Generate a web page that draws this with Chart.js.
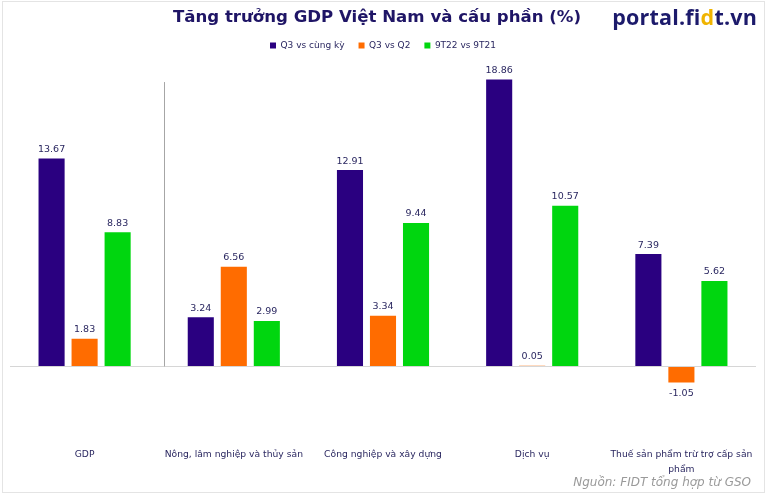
<!DOCTYPE html>
<html>
<head>
<meta charset="utf-8">
<script src="https://cdn.jsdelivr.net/npm/chart.js@4.4.0/dist/chart.umd.min.js"></script>
<style>
  html, body { margin:0; padding:0; background:#fff; }
  #wrap { position:relative; width:767px; height:496px; overflow:hidden; }
  #frame { position:absolute; left:2px; top:1px; width:763px; height:492px; border:1px solid #e4e4e4; box-sizing:border-box; pointer-events:none; }
  #title { position:absolute; left:0; top:7px; width:754px; text-align:center; font-family:"DejaVu Sans", Verdana, sans-serif; font-weight:bold; font-size:16.6px; color:#1f1566; }
  #logo { position:absolute; right:10px; top:2px; font-family:"Open Sans", "Noto Sans", sans-serif; font-weight:700; font-size:21.5px; color:#1c1a6b; letter-spacing:0.2px; }
  #logo span { color:#f0b400; }
  #source { position:absolute; right:16px; top:475px; font-family:"DejaVu Sans", Verdana, sans-serif; font-style:italic; font-size:12px; color:#9a9a9a; }
  canvas { position:absolute; left:0; top:0; }
</style>
</head>
<body>
<div id="wrap">
  <canvas id="c" width="767" height="496"></canvas>
  <div id="title">Tăng trưởng GDP Việt Nam và cấu phần (%)</div>
  <div id="logo">portal.fi<span>d</span>t.vn</div>
  <div id="source">Nguồn: FIDT tổng hợp từ GSO</div>
  <div id="frame"></div>
</div>
<script>
const categories = [
  "GDP",
  "Nông, lâm nghiệp và thủy sản",
  "Công nghiệp và xây dựng",
  "Dịch vụ",
  ["Thuế sản phẩm trừ trợ cấp sản", "phẩm"]
];
const seriesNames = ["Q3 vs cùng kỳ", "Q3 vs Q2", "9T22 vs 9T21"];
const q3YoY = [13.67, 3.24, 12.91, 18.86, 7.39];
const q3QoQ = [1.83, 6.56, 3.34, 0.05, -1.05];
const ytd = [8.83, 2.99, 9.44, 10.57, 5.62];
const colors = ["#2a0080", "#ff6c00", "#00d60f"];

const valueLabels = {
  id: "valueLabels",
  afterDatasetsDraw(chart) {
    const ctx = chart.ctx;
    ctx.save();
    ctx.font = "9.5px 'DejaVu Sans', Verdana, sans-serif";
    ctx.fillStyle = "#2a2760";
    ctx.textAlign = "center";
    ctx.textBaseline = "middle";
    chart.data.datasets.forEach((ds, i) => {
      const meta = chart.getDatasetMeta(i);
      meta.data.forEach((bar, j) => {
        const v = ds.data[j];
        const y = v >= 0 ? bar.y - 9 : bar.y + 11;
        ctx.fillText(v.toFixed(2), bar.x, y);
      });
    });
    ctx.restore();
  }
};

const separator = {
  id: "separator",
  beforeDatasetsDraw(chart) {
    const x = chart.scales.x.getPixelForValue(0.53);
    const y0 = chart.scales.y.getPixelForValue(0);
    const y1 = chart.scales.y.getPixelForValue(18.7);
    const ctx = chart.ctx;
    ctx.save();
    ctx.strokeStyle = "#a6a6a6";
    ctx.lineWidth = 1;
    ctx.beginPath();
    ctx.moveTo(Math.round(x) + 0.5, y1);
    ctx.lineTo(Math.round(x) + 0.5, y0);
    ctx.stroke();
    ctx.restore();
  }
};

new Chart(document.getElementById("c"), {
  type: "bar",
  data: {
    labels: categories,
    datasets: [
      { label: seriesNames[0], data: q3YoY, backgroundColor: colors[0] },
      { label: seriesNames[1], data: q3QoQ, backgroundColor: colors[1] },
      { label: seriesNames[2], data: ytd, backgroundColor: colors[2] }
    ]
  },
  options: {
    responsive: false,
    animation: false,
    devicePixelRatio: 1,
    layout: { padding: { top: 27, left: 10, right: 11, bottom: 13.5 } },
    datasets: { bar: { categoryPercentage: 0.664, barPercentage: 0.79 } },
    plugins: {
      legend: {
        position: "top",
        labels: {
          boxWidth: 6, boxHeight: 6, padding: 14,
          color: "#2a2760",
          font: { family: "'DejaVu Sans', Verdana, sans-serif", size: 9 }
        }
      },
      tooltip: { enabled: false }
    },
    scales: {
      x: {
        grid: { display: false, drawTicks: false },
        border: { display: false },
        ticks: {
          color: "#2a2760",
          padding: 5,
          maxRotation: 0,
          autoSkip: false,
          font: { family: "'DejaVu Sans', Verdana, sans-serif", size: 9.2, lineHeight: 1.63 }
        }
      },
      y: {
        min: -5, max: 20.15,
        ticks: { display: false, stepSize: 5 },
        border: { display: false },
        grid: {
          drawTicks: false,
          color: (c) => (c.tick && c.tick.value === 0 ? "#d6d6d6" : "rgba(0,0,0,0)")
        }
      }
    }
  },
  plugins: [valueLabels, separator]
});
</script>
</body>
</html>
